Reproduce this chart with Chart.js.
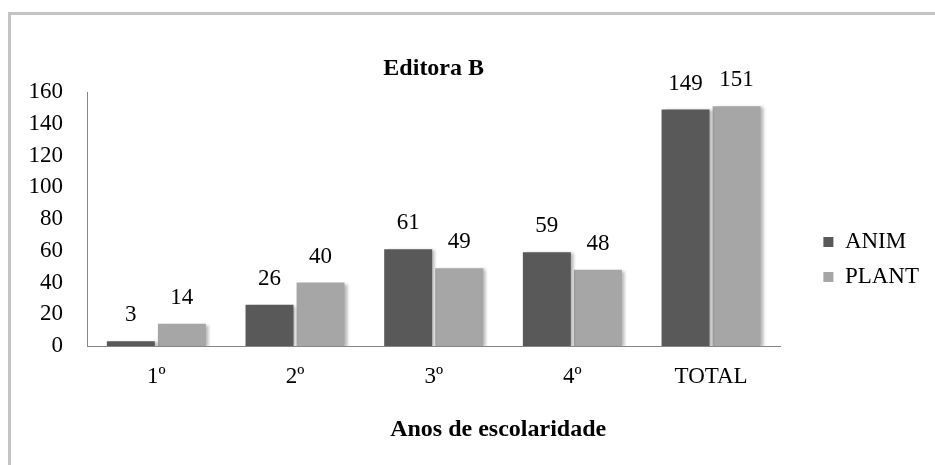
<!DOCTYPE html>
<html>
<head>
<meta charset="utf-8">
<script src="https://cdn.jsdelivr.net/npm/chart.js@4.4.1/dist/chart.umd.min.js"></script>
<style>
html,body{margin:0;padding:0;background:#fff;}
#wrap{position:relative;width:935px;height:465px;overflow:hidden;background:#fff;}
#frame{position:absolute;left:8px;top:12px;width:1000px;height:1000px;border-left:3px solid #c4c4c4;border-top:3px solid #c4c4c4;}
canvas{position:absolute;left:0;top:0;}
</style>
</head>
<body>
<div id="wrap"><div id="frame"></div><canvas id="c" width="935" height="465"></canvas></div>
<script>
// ---- data ----
const categories = ['1º', '2º', '3º', '4º', 'TOTAL'];
const seriesNames = ['ANIM', 'PLANT'];
const animValues = [3, 26, 61, 59, 149];
const plantValues = [14, 40, 49, 48, 151];
const yMin = 0;
const yMax = 160;
const yStep = 20;
const chartTitle = 'Editora B';
const xAxisTitle = 'Anos de escolaridade';

// ---- style ----
const FONT = '"Liberation Serif", "Times New Roman", serif';
const TXT = '#000000';
const AXIS = '#868686';
const COLORS = ['#595959', '#a6a6a6'];

const shadowAndLabels = {
  id: 'shadowAndLabels',
  beforeDatasetsDraw(chart) {
    const ctx = chart.ctx;
    ctx.save();
    ctx.shadowColor = 'rgba(0,0,0,0.28)';
    ctx.shadowBlur = 3;
    ctx.shadowOffsetX = 3;
    ctx.shadowOffsetY = 1;
  },
  afterDatasetsDraw(chart) {
    const ctx = chart.ctx;
    ctx.restore();
    ctx.save();
    ctx.font = '23px ' + FONT;
    ctx.fillStyle = TXT;
    ctx.textAlign = 'center';
    ctx.textBaseline = 'middle';
    chart.data.datasets.forEach((ds, di) => {
      const meta = chart.getDatasetMeta(di);
      meta.data.forEach((el, i) => {
        ctx.fillText(String(ds.data[i]), el.x, el.y - 26);
      });
    });
    ctx.restore();
  },
  afterDraw(chart) {
    const ctx = chart.ctx;
    const a = chart.chartArea;
    ctx.save();
    ctx.font = 'bold 24px ' + FONT;
    ctx.fillStyle = TXT;
    ctx.textAlign = 'center';
    ctx.textBaseline = 'middle';
    ctx.fillText(xAxisTitle, a.left + (a.right - a.left) * 0.593, a.bottom + 84);
    ctx.restore();
  }
};

const legendShift = {
  id: 'legendShift',
  afterLayout(chart) {
    const lg = chart.legend;
    if (lg) { lg.left += 31; lg.right += 31; }
  }
};

new Chart(document.getElementById('c'), {
  type: 'bar',
  data: {
    labels: categories,
    datasets: [
      { label: seriesNames[0], data: animValues, backgroundColor: COLORS[0], borderWidth: 0 },
      { label: seriesNames[1], data: plantValues, backgroundColor: COLORS[1], borderWidth: 0 }
    ]
  },
  options: {
    responsive: false,
    animation: false,
    devicePixelRatio: 1,
    events: [],
    categoryPercentage: 0.736,
    barPercentage: 0.94,
    layout: { padding: { left: 20, right: 37, top: 54, bottom: 0 } },
    plugins: {
      tooltip: { enabled: false },
      title: {
        display: true,
        text: chartTitle,
        fullSize: false,
        color: TXT,
        font: { family: FONT, size: 24, weight: 'bold', lineHeight: 1.2 },
        padding: { top: 0, bottom: 9.2 }
      },
      legend: {
        position: 'right',
        align: 'center',
        labels: {
          boxWidth: 10,
          boxHeight: 10,
          padding: 12,
          color: TXT,
          font: { family: FONT, size: 23 }
        }
      }
    },
    scales: {
      x: {
        grid: { display: false, drawTicks: false },
        border: { display: true, color: AXIS, width: 1 },
        ticks: { color: TXT, padding: 17, font: { family: FONT, size: 23 } },
        afterFit(s) { s.height = 119; }
      },
      y: {
        min: yMin,
        max: yMax,
        grid: { display: false, drawTicks: false },
        border: { display: true, color: AXIS, width: 1 },
        ticks: { stepSize: yStep, color: TXT, padding: 24, font: { family: FONT, size: 23 } },
        afterFit(s) { s.width = 67; }
      }
    }
  },
  plugins: [shadowAndLabels, legendShift]
});
</script>
</body>
</html>
